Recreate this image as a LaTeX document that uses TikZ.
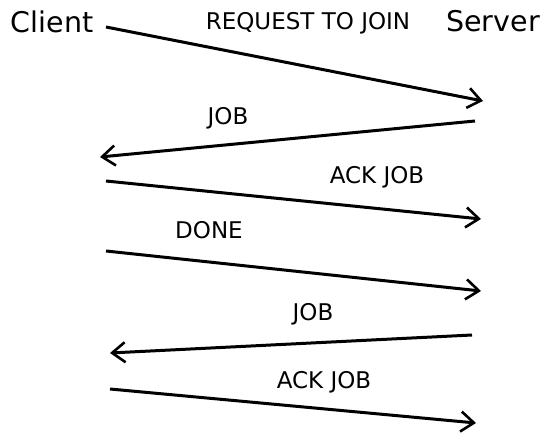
\documentclass[tikz,border=0pt]{standalone}
\usepackage{fontspec}
\setmainfont{DejaVu Sans}
\usetikzlibrary{arrows.meta}
\tikzset{
  party/.style={inner sep=0pt, font=\fontsize{28.5}{32}\selectfont},
  msglabel/.style={inner sep=0pt, font=\fontsize{23}{27}\selectfont},
  msg/.style={line width=3pt, -{Straight Barb[length=13pt,width=20pt,line width=2.6pt]}}
}
\begin{document}
\begin{tikzpicture}[x=1pt,y=-1pt]
  \useasboundingbox (0,0) rectangle (545,435);

  % the two parties
  \node[party] (client) at (52,22) {Client};
  \node[party] (server) at (493,21) {Server};

  % message end points, client side (c) and server side (s)
  \coordinate (c1) at (106,27);   \coordinate (s1) at (483,101);
  \coordinate (s2) at (475,121);  \coordinate (c2) at (100,157);
  \coordinate (c3) at (106,181);  \coordinate (s3) at (481,219);
  \coordinate (c4) at (106,251);  \coordinate (s4) at (481,291);
  \coordinate (s5) at (472,335);  \coordinate (c5) at (110,353);
  \coordinate (c6) at (110,389);  \coordinate (s6) at (476,423);

  % messages
  \draw[msg] (c1) -- (s1);
  \draw[msg] (s2) -- (c2);
  \draw[msg] (c3) -- (s3);
  \draw[msg] (c4) -- (s4);
  \draw[msg] (s5) -- (c5);
  \draw[msg] (c6) -- (s6);

  % message labels
  \node[msglabel] (l1) at (308,23) {REQUEST TO JOIN};
  \node[msglabel] (l2) at (228,118) {JOB};
  \node[msglabel] (l3) at (377,177) {ACK JOB};
  \node[msglabel] (l4) at (209,230) {DONE};
  \node[msglabel] (l5) at (313,314) {JOB};
  \node[msglabel] (l6) at (324,382) {ACK JOB};
\end{tikzpicture}
\end{document}
